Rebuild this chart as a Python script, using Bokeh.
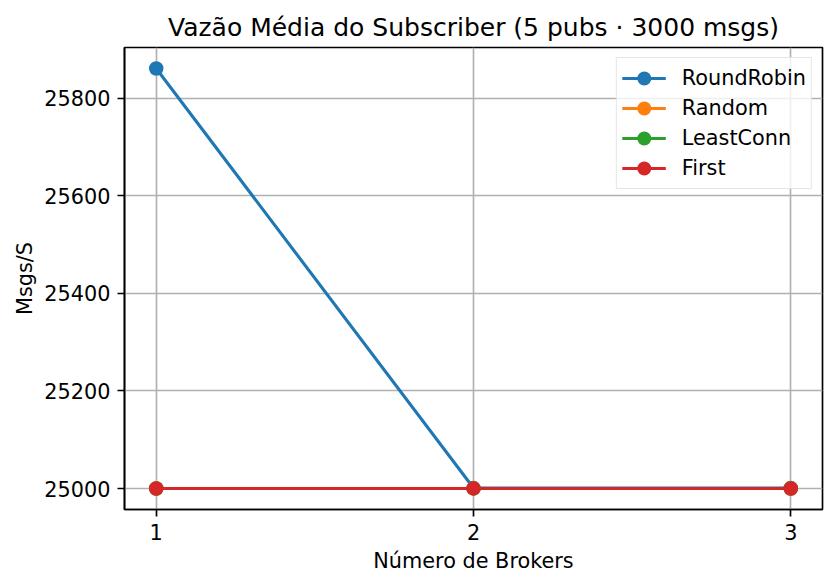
from bokeh.plotting import figure
from bokeh.models import FixedTicker, Range1d, Legend
from bokeh.embed import file_html
from bokeh.resources import INLINE

# Data
brokers = [1, 2, 3]
series_names = ["RoundRobin", "Random", "LeastConn", "First"]
round_robin = [25861, 25001, 25001]
random_s = [25000, 25000, 25000]
least_conn = [25000, 25000, 25000]
first = [25000, 25000, 25000]
colors = ["#1f77b4", "#ff7f0e", "#2ca02c", "#d62728"]
y_ticks = [25000, 25200, 25400, 25600, 25800]
x_ticks = [1, 2, 3]

title = "Vazão Média do Subscriber (5 pubs · 3000 msgs)"
x_label = "Número de Brokers"
y_label = "Msgs/S"

FONT = "DejaVu Sans"

all_vals = round_robin + random_s + least_conn + first
ymin, ymax = min(all_vals), max(all_vals)
ypad = 0.05 * (ymax - ymin)
xpad = 0.05 * (max(brokers) - min(brokers))

p = figure(width=836, height=587, output_backend="svg", toolbar_location=None,
           x_range=Range1d(min(brokers) - xpad, max(brokers) + xpad),
           y_range=Range1d(ymin - ypad, ymax + ypad),
           min_border_left=124, min_border_right=14,
           min_border_top=47, min_border_bottom=78)
p.background_fill_color = "white"
p.border_fill_color = "white"
p.outline_line_color = "black"
p.outline_line_width = 1.67

p.title.text = title
p.title.align = "center"
p.title.text_font = FONT
p.title.text_font_size = "25px"
p.title.text_font_style = "normal"
p.title.text_color = "black"
p.title.standoff = 12

for ax in (p.xaxis[0], p.yaxis[0]):
    ax.major_label_text_font = FONT
    ax.major_label_text_font_size = "20.8px"
    ax.major_label_text_color = "black"
    ax.axis_label_text_font = FONT
    ax.axis_label_text_font_size = "20.8px"
    ax.axis_label_text_font_style = "normal"
    ax.axis_label_text_color = "black"
    ax.axis_line_width = 1.67
    ax.axis_line_color = "black"
    ax.major_tick_line_width = 1.67
    ax.major_tick_line_color = "black"
    ax.major_tick_out = 7
    ax.major_tick_in = 0
    ax.minor_tick_line_color = None
    ax.major_label_standoff = 7

p.xaxis.axis_label = x_label
p.yaxis.axis_label = y_label
p.xaxis.ticker = FixedTicker(ticks=x_ticks)
p.yaxis.ticker = FixedTicker(ticks=y_ticks)
p.xaxis.axis_label_standoff = 6
p.yaxis.axis_label_standoff = 4

p.xgrid.ticker = FixedTicker(ticks=x_ticks)
p.ygrid.ticker = FixedTicker(ticks=y_ticks)
for g in (p.xgrid[0], p.ygrid[0]):
    g.grid_line_color = "#b0b0b0"
    g.grid_line_width = 1.67

items = []
for name, vals, c in zip(series_names, [round_robin, random_s, least_conn, first], colors):
    l = p.line(brokers, vals, line_color=c, line_width=3.1)
    s = p.scatter(brokers, vals, size=12.5, fill_color=c, line_color=c, line_width=2)
    items.append((name, [l, s]))

legend = Legend(items=items, location="top_right")
legend.label_text_font = FONT
legend.label_text_font_size = "20.8px"
legend.label_text_color = "black"
legend.glyph_width = 44
legend.glyph_height = 30
legend.label_height = 30
legend.spacing = 0
legend.padding = 5
legend.margin = 10
legend.label_standoff = 16
legend.border_line_color = "#cccccc"
legend.border_line_width = 1.67
legend.background_fill_alpha = 0.8
p.add_layout(legend)

open("out.html", "w").write(file_html(p, INLINE))
